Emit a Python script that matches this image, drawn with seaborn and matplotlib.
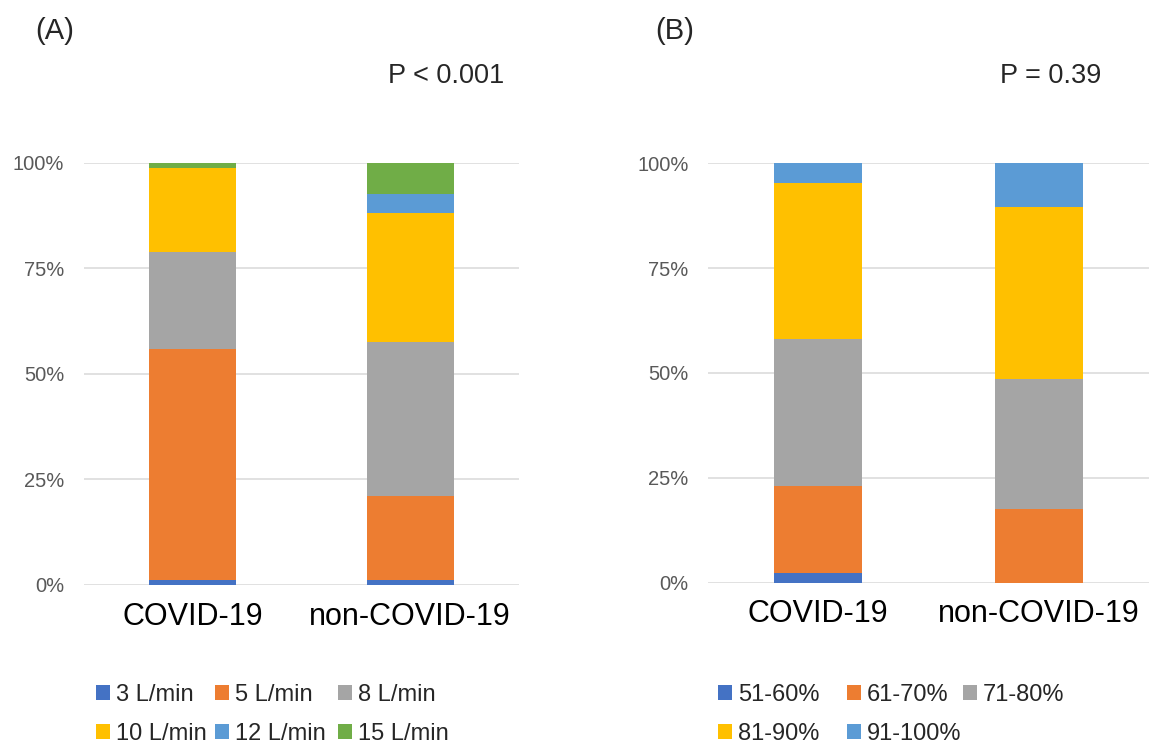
import matplotlib
matplotlib.use("Agg")
import matplotlib.pyplot as plt
import seaborn as sns
import pandas as pd
import numpy as np
from matplotlib.patches import Patch

# ---------------- data ----------------
groups = ["COVID-19", "non-COVID-19"]

flow_labels = ["3 L/min", "5 L/min", "8 L/min", "10 L/min", "12 L/min", "15 L/min"]
flow_covid = [1.2, 54.7, 22.9, 19.9, 0.0, 1.3]
flow_noncovid = [1.2, 19.9, 36.5, 30.5, 4.6, 7.3]

fio2_labels = ["51-60%", "61-70%", "71-80%", "81-90%", "91-100%"]
fio2_covid = [2.2, 20.9, 34.9, 37.4, 4.6]
fio2_noncovid = [0.0, 17.5, 31.0, 41.0, 10.5]

colors_a = ["#4472C4", "#ED7D31", "#A5A5A5", "#FFC000", "#5B9BD5", "#70AD47"]
colors_b = ["#4472C4", "#ED7D31", "#A5A5A5", "#FFC000", "#5B9BD5"]

ytick_vals = [0, 25, 50, 75, 100]
ytick_labels = ["0%", "25%", "50%", "75%", "100%"]

# ---------------- style ----------------
sns.set_theme(style="white")
plt.rcParams["font.family"] = ["Liberation Sans", "DejaVu Sans"]

W, H = 1153, 744
fig = plt.figure(figsize=(W / 100, H / 100), dpi=100)
fig.patch.set_facecolor("white")

ax_a = fig.add_axes([83.75 / W, (H - 585) / H, 435 / W, 422 / H])
ax_b = fig.add_axes([708 / W, (H - 582.7) / H, 441 / W, 419.4 / H])


def stacked(ax, labels, cov, noncov, colors):
    df = pd.DataFrame({"group": groups * len(labels),
                       "cat": np.repeat(labels, 2),
                       "val": [v for pair in zip(cov, noncov) for v in pair]})
    cum = {}
    for g in groups:
        sub = df[df.group == g].set_index("cat").loc[labels, "val"].cumsum()
        cum[g] = sub
    # draw from top segment down so lower segments overlay upper cumulative bars
    for i in range(len(labels) - 1, -1, -1):
        lab = labels[i]
        d = pd.DataFrame({"group": groups,
                          "cum": [cum[g][lab] for g in groups]})
        sns.barplot(data=d, x="group", y="cum", order=groups, ax=ax,
                    color=colors[i], width=0.4, errorbar=None,
                    saturation=1, linewidth=0, zorder=3)
    ax.set_ylim(0, 100)
    ax.set_xlim(-0.5, 1.5)
    ax.set_yticks(ytick_vals)
    ax.set_yticklabels(ytick_labels)
    ax.set_xlabel("")
    ax.set_ylabel("")
    for s in ax.spines.values():
        s.set_visible(False)
    ax.yaxis.grid(True, color="#D9D9D9", linewidth=1.1, zorder=0)
    ax.set_axisbelow(True)
    ax.tick_params(axis="y", length=0, pad=14, labelsize=14.5, labelcolor="#595959")
    ax.tick_params(axis="x", length=0, pad=12, labelsize=22, labelcolor="black")


stacked(ax_a, flow_labels, flow_covid, flow_noncovid, colors_a)
stacked(ax_b, fio2_labels, fio2_covid, fio2_noncovid, colors_b)

# panel labels and p-values
fig.text(35 / W, 1 - 31 / H, "(A)", fontsize=21, va="center", ha="left")
fig.text(655 / W, 1 - 31 / H, "(B)", fontsize=21, va="center", ha="left")
fig.text(388 / W, 1 - 76 / H, "P < 0.001", fontsize=19.5, va="center", ha="left")
fig.text(1000 / W, 1 - 76 / H, "P = 0.39", fontsize=19.5, va="center", ha="left")


def legend_columns(labels, colors, xs, y):
    handles = [Patch(facecolor=c, edgecolor="none", label=l) for l, c in zip(labels, colors)]
    ncol = len(xs)
    for ci, x in enumerate(xs):
        hs = handles[ci::ncol]
        if not hs:
            continue
        fig.legend(handles=hs, labels=[h.get_label() for h in hs], ncol=1,
                   loc="upper left", bbox_to_anchor=(x / W, 1 - y / H),
                   frameon=False, fontsize=17, handlelength=0.6, handleheight=0.6,
                   handletextpad=0.25, labelspacing=0.7,
                   borderpad=0, borderaxespad=0)


legend_columns(flow_labels, colors_a, [96, 215, 338], 684)
legend_columns(fio2_labels, colors_b, [718, 847, 963], 684)

fig.savefig("out.png", dpi=100, facecolor="white")
